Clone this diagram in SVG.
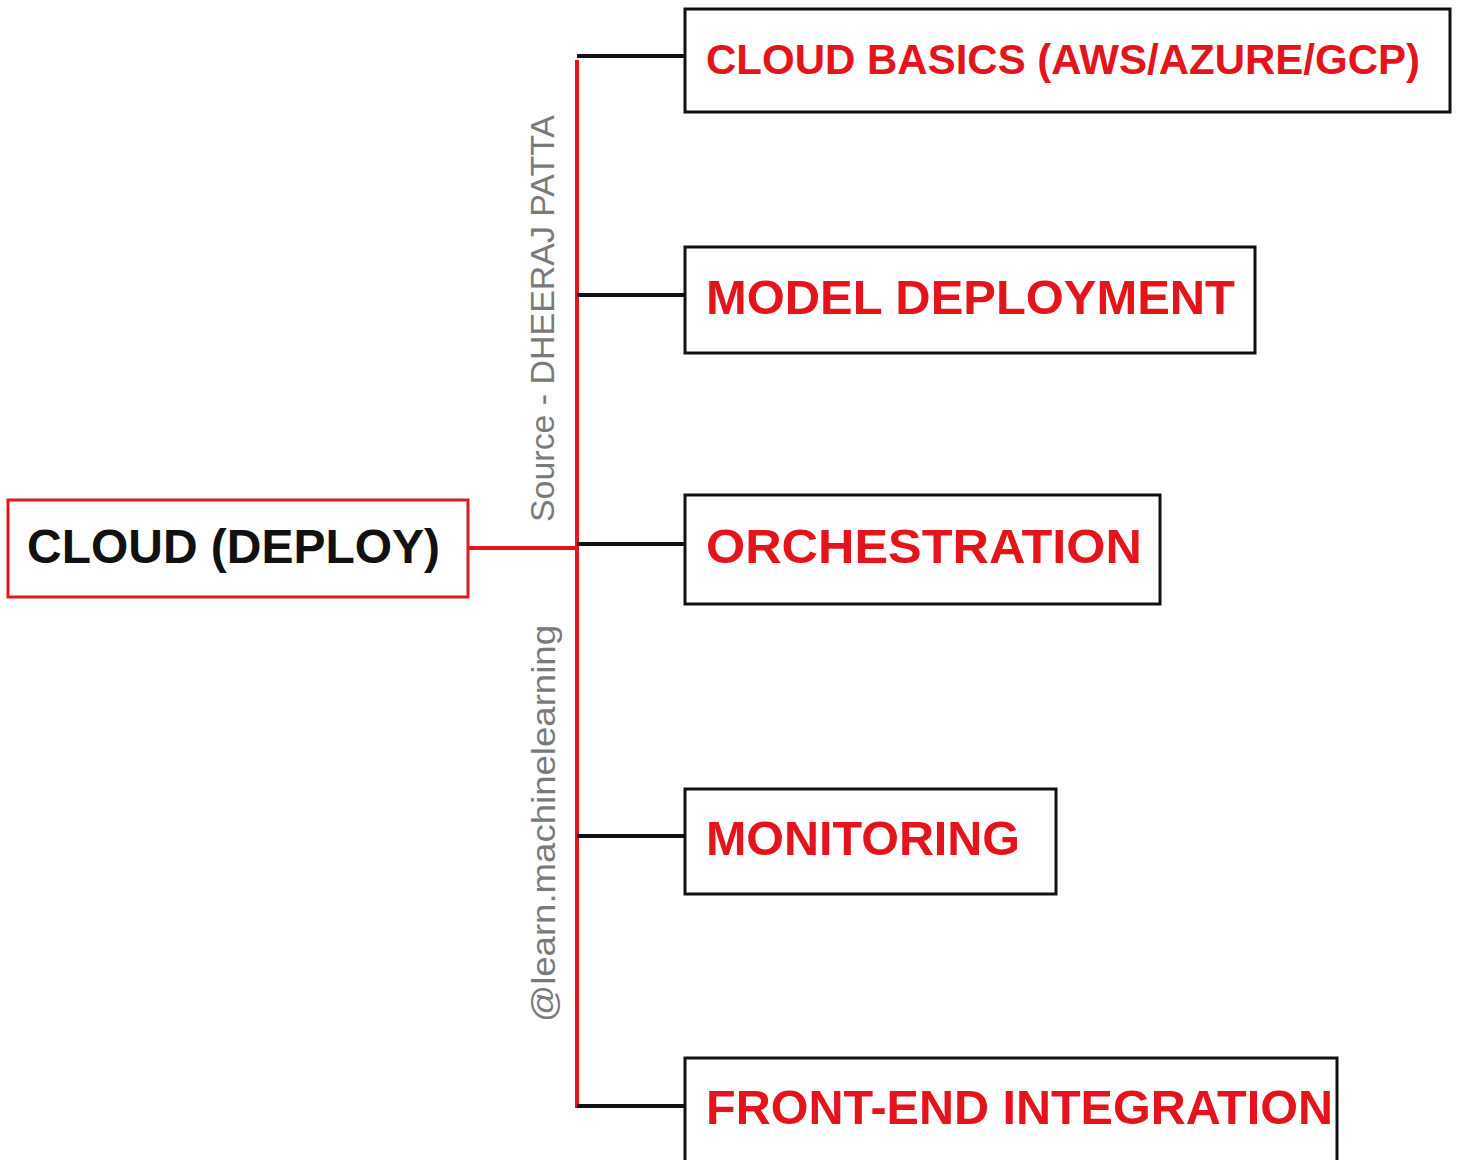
<svg xmlns="http://www.w3.org/2000/svg" width="1461" height="1160" viewBox="0 0 1461 1160">
<style>
.box{fill:#fff;stroke:#111;stroke-width:3}
.root{fill:#fff;stroke:#dc1a1f;stroke-width:3}
.lbl{font-family:"Liberation Sans",Arial,sans-serif;font-weight:bold;fill:#e3141b}
.rootlbl{font-family:"Liberation Sans",Arial,sans-serif;font-weight:bold;fill:#111}
.wm{font-family:"Liberation Sans",Arial,sans-serif;fill:#7a7a7a}
.red{stroke:#e0161c;stroke-width:4;fill:none}
.blk{stroke:#111;stroke-width:4;fill:none}
</style>
<rect width="1461" height="1160" fill="#fff"/>
<g id="connectors">
<line class="red" x1="468" y1="548" x2="577" y2="548"/>
<line class="red" x1="577" y1="60" x2="577" y2="1108"/>
<line class="blk" x1="577" y1="56" x2="684" y2="56"/>
<line class="blk" x1="577" y1="295" x2="684" y2="295"/>
<line class="blk" x1="577" y1="544" x2="684" y2="544"/>
<line class="blk" x1="577" y1="836" x2="684" y2="836"/>
<line class="blk" x1="577" y1="1106" x2="684" y2="1106"/>
</g>
<g id="watermarks">
<text class="wm" font-size="33" transform="translate(554,522) rotate(-90)" textLength="407" lengthAdjust="spacingAndGlyphs">Source - DHEERAJ PATTA</text>
<text class="wm" font-size="34" transform="translate(555,1022) rotate(-90)" textLength="397" lengthAdjust="spacingAndGlyphs">@learn.machinelearning</text>
</g>
<g id="node-root">
<rect class="root" x="8" y="500" width="460" height="97"/>
<text class="rootlbl" x="27" y="563" font-size="48" textLength="413" lengthAdjust="spacingAndGlyphs">CLOUD (DEPLOY)</text>
</g>
<g id="node-cloud-basics">
<rect class="box" x="685" y="9" width="765" height="103"/>
<text class="lbl" x="706" y="74" font-size="42" textLength="714" lengthAdjust="spacingAndGlyphs">CLOUD BASICS (AWS/AZURE/GCP)</text>
</g>
<g id="node-model-deployment">
<rect class="box" x="685" y="247" width="570" height="106"/>
<text class="lbl" x="706" y="314" font-size="48" textLength="529" lengthAdjust="spacingAndGlyphs">MODEL DEPLOYMENT</text>
</g>
<g id="node-orchestration">
<rect class="box" x="685" y="495" width="475" height="109"/>
<text class="lbl" x="706" y="563" font-size="48" textLength="436" lengthAdjust="spacingAndGlyphs">ORCHESTRATION</text>
</g>
<g id="node-monitoring">
<rect class="box" x="685" y="789" width="371" height="105"/>
<text class="lbl" x="706" y="855" font-size="48" textLength="314" lengthAdjust="spacingAndGlyphs">MONITORING</text>
</g>
<g id="node-front-end">
<rect class="box" x="685" y="1058" width="652" height="110"/>
<text class="lbl" x="706" y="1124" font-size="48" textLength="627" lengthAdjust="spacingAndGlyphs">FRONT-END INTEGRATION</text>
</g>
</svg>
